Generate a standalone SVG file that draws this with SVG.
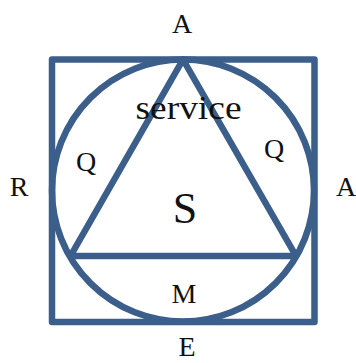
<svg xmlns="http://www.w3.org/2000/svg" width="356" height="363" viewBox="0 0 356 363">
<style>
.s{fill:none;stroke:#3b5e8a;stroke-width:6.5;stroke-linejoin:round;stroke-linecap:round}
text{font-family:"Liberation Serif","DejaVu Serif",serif;fill:#111;text-anchor:middle}
.l{font-size:28px}
</style>
<rect width="356" height="363" fill="#fff"/>
<g id="square"><rect class="s" x="52" y="59.5" width="262.5" height="262.5"/></g>
<g id="circle"><circle class="s" cx="183" cy="190.5" r="131"/></g>
<g id="triangle"><polygon class="s" points="183,59.5 70.5,256 296,256"/></g>
<g id="labels">
<text class="l" x="182" y="33">A</text>
<text class="l" x="19" y="196">R</text>
<text class="l" x="346" y="196">A</text>
<text class="l" x="187" y="356">E</text>
<text x="188.5" y="119" style="font-size:34px" textLength="106" lengthAdjust="spacingAndGlyphs">service</text>
<text class="l" x="86" y="171">Q</text>
<text class="l" x="274" y="158">Q</text>
<text x="185" y="223" style="font-size:44px">S</text>
<text class="l" x="184" y="303">M</text>
</g>
</svg>
